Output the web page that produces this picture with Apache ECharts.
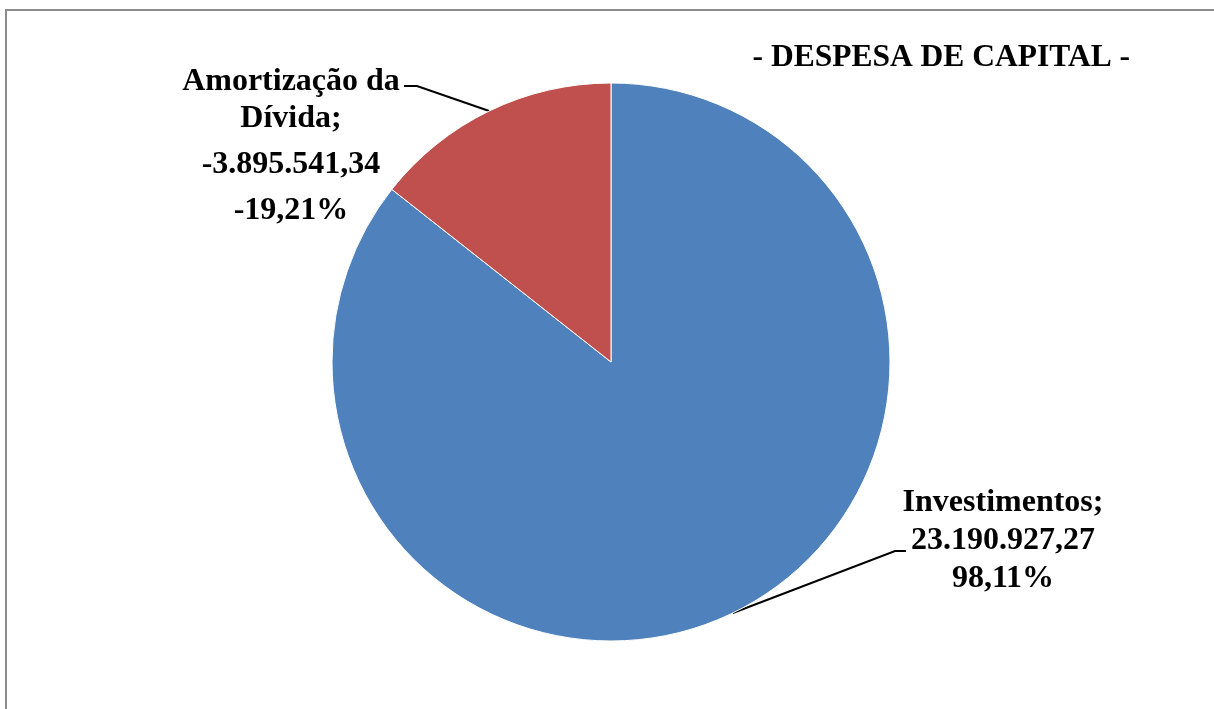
<!DOCTYPE html>
<html>
<head>
<meta charset="utf-8">
<script src="https://cdn.jsdelivr.net/npm/echarts@6/dist/echarts.min.js"></script>
<style>
html, body { margin: 0; padding: 0; background: #fff; }
#chart { width: 1214px; height: 709px; }
</style>
</head>
<body>
<div id="chart"></div>
<script>
const title = '- DESPESA DE CAPITAL -';
const categories = ['Investimentos', 'Amortização da Dívida'];
const values = [23190927.27, -3895541.34];
const valueLabels = ['23.190.927,27', '-3.895.541,34'];
const percentLabels = ['98,11%', '-19,21%'];
const colors = ['#4F81BD', '#C0504D'];

const FONT = "'Liberation Serif', 'Times New Roman', serif";
const FS = 32;

const labelTexts = [
  '{a|Investimentos;}\n{a|' + valueLabels[0] + '}\n{a|' + percentLabels[0] + '}',
  '{b|Amortização da}\n{b|Dívida;}\n{c|' + valueLabels[1] + '}\n{b|' + percentLabels[1] + '}'
];

const labelPos = [
  { x: 1003, y: 541, bend: [895, 551], end: [906, 551] },
  { x: 291, y: 146, bend: [417, 86], end: [404, 86] }
];

const chart = echarts.init(document.getElementById('chart'), null, { renderer: 'canvas' });
chart.setOption({
  animation: false,
  backgroundColor: '#fff',
  title: {
    text: title,
    right: 84,
    top: 42,
    padding: 0,
    textStyle: { fontFamily: FONT, fontWeight: 'bold', fontSize: 31.5, color: '#000' }
  },
  graphic: [{
    type: 'rect',
    shape: { x: 6, y: 10, width: 1400, height: 900 },
    style: { fill: 'none', stroke: '#8c8c8c', lineWidth: 2 },
    silent: true,
    z: -10
  }],
  series: [{
    type: 'pie',
    center: [611, 362],
    radius: 279,
    startAngle: 90,
    clockwise: true,
    avoidLabelOverlap: false,
    itemStyle: { borderColor: '#fff', borderWidth: 1 },
    label: {
      show: true,
      position: 'outside',
      formatter: function (p) { return labelTexts[p.dataIndex]; },
      fontFamily: FONT,
      fontWeight: 'bold',
      fontSize: FS,
      color: '#000',
      align: 'center',
      rich: {
        a: { fontFamily: FONT, fontWeight: 'bold', fontSize: FS, color: '#000', lineHeight: 38, align: 'center' },
        b: { fontFamily: FONT, fontWeight: 'bold', fontSize: FS, color: '#000', lineHeight: 37, align: 'center' },
        c: { fontFamily: FONT, fontWeight: 'bold', fontSize: FS, color: '#000', lineHeight: 55, align: 'center' }
      }
    },
    labelLine: { show: true, lineStyle: { color: '#000', width: 2 } },
    labelLayout: function (params) {
      const lp = labelPos[params.dataIndex];
      const anchor = params.labelLinePoints ? params.labelLinePoints[0] : [lp.bend[0], lp.bend[1]];
      return {
        x: lp.x,
        y: lp.y,
        align: 'center',
        verticalAlign: 'middle',
        labelLinePoints: [anchor, lp.bend, lp.end]
      };
    },
    data: categories.map(function (c, i) {
      return { name: c, value: Math.abs(values[i]), itemStyle: { color: colors[i] } };
    })
  }]
});
</script>
</body>
</html>
